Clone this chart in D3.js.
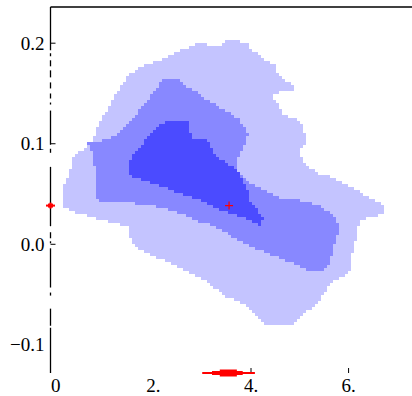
<!DOCTYPE html>
<html><head><meta charset="utf-8">
<script src="https://cdn.jsdelivr.net/npm/d3@7"></script>
<style>body{margin:0;background:#fff}svg{display:block}</style>
</head><body><svg id="chart" width="412" height="396"></svg>
<script>
// Highest-density regions of the joint posterior, outer to inner
const lightRegion = [[2.73,0.196],[2.91,0.200],[3.16,0.198],[3.40,0.198],[3.47,0.203],[3.92,0.201],[3.98,0.193],[4.12,0.191],[4.26,0.183],[4.49,0.179],[4.49,0.171],[4.70,0.163],[4.90,0.157],[4.84,0.153],[4.59,0.151],[4.43,0.147],[4.55,0.139],[4.65,0.129],[4.94,0.125],[5.04,0.119],[5.10,0.111],[5.10,0.099],[5.00,0.094],[5.06,0.084],[5.21,0.076],[5.41,0.070],[5.72,0.066],[5.92,0.060],[6.07,0.056],[6.23,0.052],[6.40,0.047],[6.60,0.042],[6.74,0.038],[6.74,0.030],[6.48,0.027],[6.27,0.024],[6.19,0.016],[6.15,0.004],[6.07,-0.011],[6.07,-0.024],[5.92,-0.031],[5.72,-0.036],[5.58,-0.043],[5.45,-0.053],[5.31,-0.061],[5.10,-0.068],[4.96,-0.074],[4.80,-0.081],[4.29,-0.081],[4.14,-0.074],[3.98,-0.064],[3.77,-0.058],[3.53,-0.053],[3.32,-0.046],[3.12,-0.038],[2.91,-0.032],[2.65,-0.026],[2.38,-0.019],[2.09,-0.014],[1.83,-0.008],[1.62,-0.002],[1.52,0.008],[1.48,0.018],[1.21,0.021],[0.90,0.025],[0.66,0.028],[0.39,0.032],[0.17,0.036],[0.13,0.049],[0.19,0.062],[0.29,0.070],[0.33,0.084],[0.49,0.092],[0.66,0.098],[0.76,0.105],[0.84,0.115],[0.94,0.125],[1.11,0.138],[1.23,0.149],[1.35,0.159],[1.52,0.169],[1.72,0.176],[2.03,0.181],[2.24,0.185],[2.44,0.190]];
const mediumRegion = [[2.19,0.163],[2.38,0.166],[2.54,0.164],[2.65,0.157],[2.87,0.153],[3.06,0.145],[3.20,0.141],[3.40,0.135],[3.57,0.131],[3.73,0.125],[3.86,0.117],[3.94,0.108],[3.88,0.099],[3.73,0.084],[3.71,0.074],[3.88,0.066],[4.04,0.059],[4.35,0.052],[4.59,0.046],[5.00,0.044],[5.37,0.039],[5.62,0.032],[5.78,0.022],[5.78,0.009],[5.68,-0.004],[5.62,-0.018],[5.45,-0.026],[5.17,-0.026],[4.90,-0.020],[4.59,-0.014],[4.29,-0.008],[3.98,-0.002],[3.73,0.004],[3.47,0.012],[3.26,0.018],[2.95,0.022],[2.65,0.029],[2.34,0.034],[1.93,0.039],[1.52,0.041],[1.11,0.042],[0.84,0.044],[0.84,0.059],[0.80,0.074],[0.76,0.089],[0.66,0.101],[0.90,0.103],[1.11,0.105],[1.31,0.111],[1.52,0.121],[1.68,0.131],[1.83,0.141],[1.97,0.149],[2.09,0.157]];
const darkRegion = [[2.03,0.115],[2.24,0.121],[2.40,0.123],[2.69,0.123],[2.75,0.113],[2.81,0.106],[3.10,0.106],[3.16,0.099],[3.26,0.089],[3.47,0.082],[3.71,0.074],[3.83,0.064],[3.92,0.054],[3.98,0.044],[4.14,0.034],[4.24,0.027],[4.22,0.019],[4.08,0.021],[3.88,0.026],[3.67,0.030],[3.36,0.034],[2.95,0.044],[2.54,0.051],[2.24,0.056],[1.93,0.061],[1.62,0.066],[1.48,0.072],[1.52,0.084],[1.68,0.094],[1.83,0.103],[1.93,0.110]];
const regionColors = ["#c4c4ff", "#8888ff", "#4b4bff"];

// Marginal summaries: point estimate and nested intervals
const pointEstimate = [3.55, 0.0385];
const xIntervals = [[3.00, 4.08], [3.20, 3.83], [3.36, 3.71]];
const yIntervals = [[0.0355, 0.0415], [0.0365, 0.0405], [0.0375, 0.0395]];

// Pieces of the vertical axis line that are drawn
const yAxisSpans = [[0.236,0.193],[0.190,0.187],[0.183,0.177],[0.173,0.166],[0.161,0.155],[0.150,0.145],[0.141,0.139],[0.133,0.099],[0.095,0.091],[0.077,0.018],[0.012,0.006],[0.003,0.001],[-0.004,-0.043],[-0.048,-0.051],[-0.064,-0.081],[-0.083,-0.128]];

const xTickValues = [0, 2, 4, 6];
const xTickLabels = ["0", "2.", "4.", "6."];
const xTickMarks = [4, 6];
const yTickValues = [0.2, 0.1, 0.0, -0.1];
const yTickLabels = ["0.2", "0.1", "0.0", "\u22120.1"];
const yTickMarks = [0.2, 0.1, 0.0];

const xDomain = [-0.11, 7.3];
const yDomain = [-0.128, 0.236];

const svg = d3.select("#chart");
const x = d3.scaleLinear().domain(xDomain).range([50.5, 412]);
const y = d3.scaleLinear().domain(yDomain).range([373, 7]);

// Regions are shown on the density grid: each grid cell whose centre
// falls inside a region polygon is filled with that region's colour.
const cell = 3;
const regions = svg.append("g").attr("shape-rendering", "crispEdges");
[lightRegion, mediumRegion, darkRegion].forEach((r, i) => {
  const poly = r.map(d => [x(d[0]), y(d[1])]);
  const [x0, x1] = d3.extent(poly, p => p[0]);
  const [y0, y1] = d3.extent(poly, p => p[1]);
  let d = "";
  for (let gy = 7 + Math.floor((y0 - 7) / cell) * cell; gy <= y1; gy += cell) {
    for (let gx = 51 + Math.floor((x0 - 51) / cell) * cell; gx <= x1; gx += cell) {
      if (d3.polygonContains(poly, [gx + cell / 2, gy + cell / 2])) {
        d += `M${gx},${gy}h${cell}v${cell}h${-cell}Z`;
      }
    }
  }
  regions.append("path").attr("d", d).attr("fill", regionColors[i]);
});

// Frame top edge
svg.append("line").attr("x1", x(xDomain[0])).attr("x2", x(xDomain[1]))
  .attr("y1", y(yDomain[1])).attr("y2", y(yDomain[1]))
  .attr("stroke", "#000").attr("stroke-width", 1.6);

// Vertical axis as broken segments
svg.append("g").selectAll("line").data(yAxisSpans).join("line")
  .attr("x1", x(xDomain[0])).attr("x2", x(xDomain[0]))
  .attr("y1", d => y(d[0])).attr("y2", d => y(d[1]))
  .attr("stroke", "#000").attr("stroke-width", 1.3);

const font = "'Liberation Serif', 'Times New Roman', serif";
const yg = svg.append("g");
yg.selectAll("line").data(yTickMarks).join("line")
  .attr("x1", x(xDomain[0])).attr("x2", x(xDomain[0]) + 5)
  .attr("y1", d => y(d)).attr("y2", d => y(d))
  .attr("stroke", "#000").attr("stroke-width", 1);
yg.selectAll("text").data(yTickValues).join("text")
  .attr("x", x(xDomain[0]) - 6).attr("y", d => y(d)).attr("dy", "0.35em")
  .attr("text-anchor", "end").attr("font-family", font).attr("font-size", 19)
  .text((d, i) => yTickLabels[i]);

const xg = svg.append("g");
xg.selectAll("line").data(xTickMarks).join("line")
  .attr("x1", d => x(d)).attr("x2", d => x(d))
  .attr("y1", y(yDomain[0])).attr("y2", y(yDomain[0]) - 5)
  .attr("stroke", "#000").attr("stroke-width", 1);
xg.selectAll("text").data(xTickValues).join("text")
  .attr("x", d => x(d)).attr("y", 392)
  .attr("text-anchor", "middle").attr("font-family", font).attr("font-size", 19)
  .text((d, i) => xTickLabels[i]);

// Interval bars on the axes
const red = "#ff0000";
const widths = [2, 4, 7];
svg.append("g").selectAll("line").data(xIntervals).join("line")
  .attr("x1", d => x(d[0])).attr("x2", d => x(d[1]))
  .attr("y1", y(yDomain[0])).attr("y2", y(yDomain[0]))
  .attr("stroke", red).attr("stroke-width", (d, i) => widths[i]);
svg.append("g").selectAll("line").data(yIntervals).join("line")
  .attr("x1", x(xDomain[0])).attr("x2", x(xDomain[0]))
  .attr("y1", d => y(d[0])).attr("y2", d => y(d[1]))
  .attr("stroke", red).attr("stroke-width", (d, i) => [2, 5, 9][i]);

// Point estimate cross
const px = x(pointEstimate[0]), py = y(pointEstimate[1]);
svg.append("path").attr("d", `M${px - 4},${py}H${px + 4}M${px},${py - 4}V${py + 4}`)
  .attr("stroke", red).attr("stroke-width", 1.2).attr("fill", "none");
</script></body></html>
